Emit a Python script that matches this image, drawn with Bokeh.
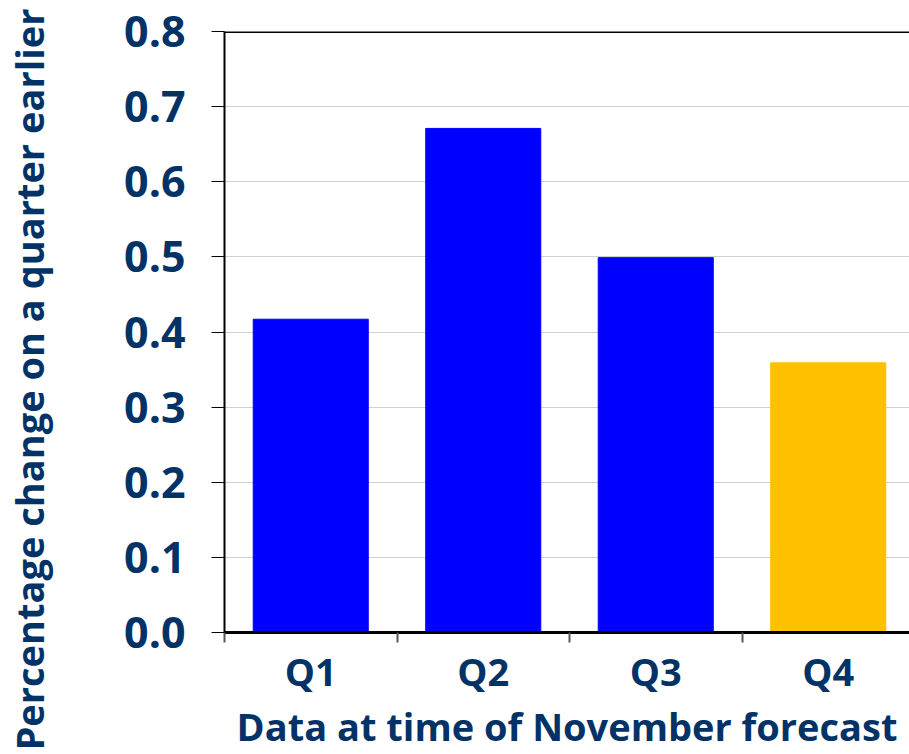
from bokeh.embed import file_html
from bokeh.models import ColumnDataSource, FixedTicker, Range1d, Span, Title
from bokeh.plotting import figure
from bokeh.resources import INLINE

# Quarterly growth, as known at the time of the November forecast
quarters = ["Q1", "Q2", "Q3", "Q4"]
growth = [0.417, 0.671, 0.499, 0.359]
bar_colors = ["#0000FF", "#0000FF", "#0000FF", "#FFC000"]
y_ticks = [0.0, 0.1, 0.2, 0.3, 0.4, 0.5, 0.6, 0.7, 0.8]

NAVY = "#033366"
FONT = "Open Sans"

positions = [i + 0.5 for i in range(len(quarters))]
source = ColumnDataSource(dict(x=positions, top=growth, color=bar_colors))

p = figure(
    width=909,
    height=754,
    output_backend="svg",
    toolbar_location=None,
    x_range=Range1d(0, 3.971),
    y_range=Range1d(0, 0.8),
    min_border_left=224,
    min_border_right=0,
    min_border_top=31,
    min_border_bottom=122,
)
p.outline_line_color = None
p.background_fill_color = "white"
p.border_fill_color = "white"

p.vbar(x="x", top="top", width=0.667, bottom=0, color="color", source=source)

# y axis
p.yaxis.ticker = FixedTicker(ticks=y_ticks)
p.yaxis.major_label_overrides = {t: f"{t:.1f}" for t in y_ticks}
p.yaxis.axis_line_color = "black"
p.yaxis.axis_line_width = 2
p.yaxis.major_tick_line_color = "black"
p.yaxis.major_tick_line_width = 1
p.yaxis.major_tick_out = 13
p.yaxis.major_tick_in = 0
p.yaxis.minor_tick_line_color = None
p.yaxis.major_label_text_font = FONT
p.yaxis.major_label_text_font_style = "bold"
p.yaxis.major_label_text_font_size = "43px"
p.yaxis.major_label_text_color = NAVY
p.yaxis.major_label_standoff = 26
# blank spacer label pushes the axis title out to the left edge
p.yaxis.axis_label = "."
p.yaxis.axis_label_text_font_size = "10px"
p.yaxis.axis_label_text_alpha = 0
p.yaxis.axis_label_standoff = 56

# x axis: labels at the bar centres, ticks on category boundaries
p.xaxis.ticker = FixedTicker(ticks=positions, minor_ticks=[0, 1, 2, 3, 4])
p.xaxis.major_label_overrides = {pos: q for pos, q in zip(positions, quarters)}
p.xaxis.axis_line_color = "black"
p.xaxis.axis_line_width = 3
p.xaxis.major_tick_line_color = None
p.xaxis.major_tick_out = 0
p.xaxis.minor_tick_line_color = "#555555"
p.xaxis.minor_tick_line_width = 2
p.xaxis.minor_tick_out = 10
p.xaxis.minor_tick_in = 0
p.xaxis.major_label_text_font = FONT
p.xaxis.major_label_text_font_style = "bold"
p.xaxis.major_label_text_font_size = "38px"
p.xaxis.major_label_text_color = NAVY
p.xaxis.major_label_standoff = 2
p.xaxis.axis_label = "Data at time of November forecast"
p.xaxis.axis_label_text_font = FONT
p.xaxis.axis_label_text_font_style = "bold"
p.xaxis.axis_label_text_font_size = "38px"
p.xaxis.axis_label_text_color = NAVY
p.xaxis.axis_label_standoff = 0

p.xgrid.grid_line_color = None
p.ygrid.ticker = FixedTicker(ticks=y_ticks[1:-1])
p.ygrid.grid_line_color = "#D0D0D0"
p.ygrid.grid_line_width = 1

# top border of the plotting area
p.add_layout(Span(location=0.8, dimension="width", line_color="black", line_width=3))

# vertical axis title, anchored below the frame and reading upwards
p.add_layout(
    Title(
        text="Percentage change on a quarter earlier",
        align="left",
        vertical_align="bottom",
        offset=-118,
        standoff=0,
        text_font=FONT,
        text_font_style="bold",
        text_font_size="38px",
        text_color=NAVY,
    ),
    "left",
)

open("out.html", "w").write(file_html(p, INLINE))
